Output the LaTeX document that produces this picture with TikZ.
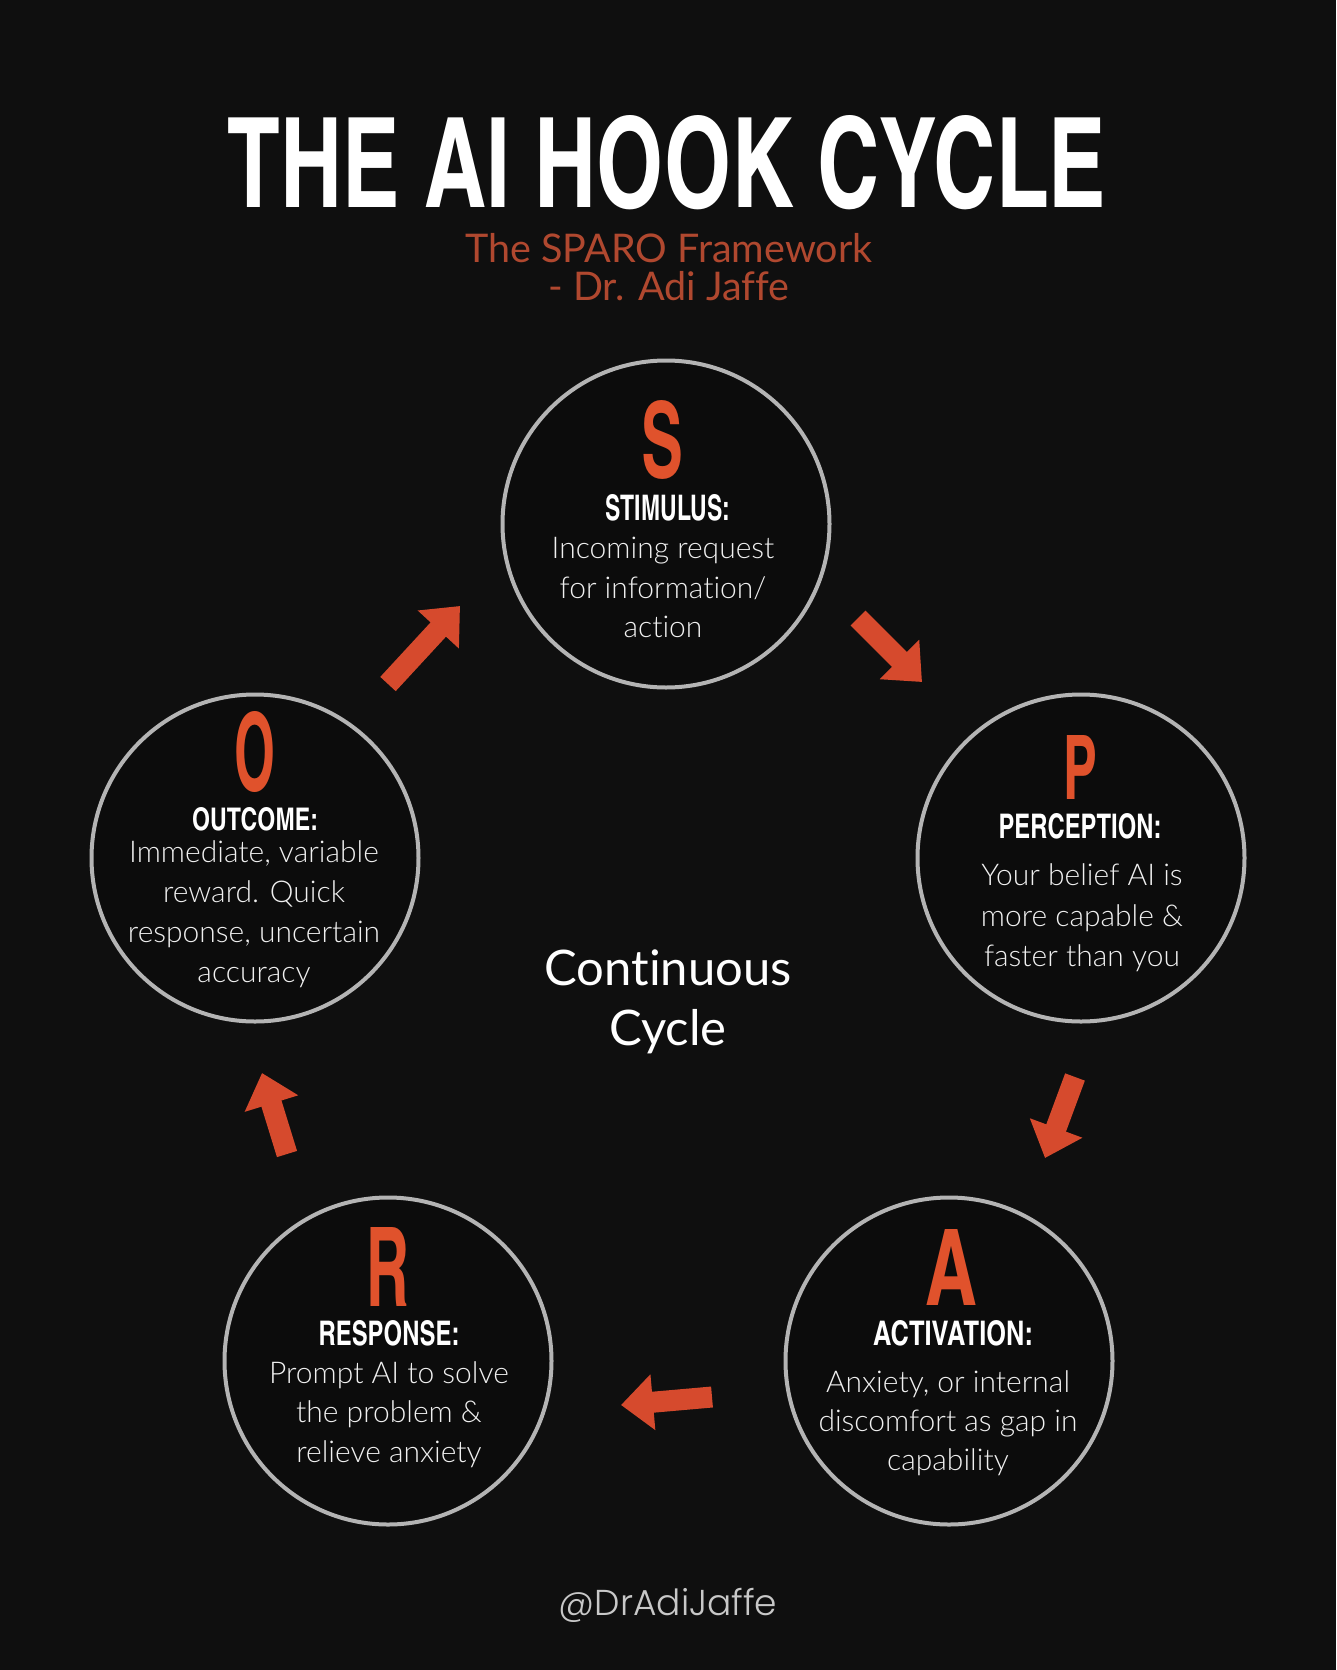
\documentclass[tikz,border=0pt]{standalone}
\usepackage{fontspec}
\usepackage{graphicx}
\usetikzlibrary{arrows.meta}
\setmainfont{Lato}[Ligatures=NoCommon]
\IfFontExistsTF{Lato Light}{\newfontfamily\lightfont{Lato Light}[Ligatures=NoCommon]}{\newfontfamily\lightfont{Lato}[Ligatures=NoCommon]}
\IfFontExistsTF{texgyreheroscn-bold.otf}{\newfontfamily\condfont{texgyreheroscn-bold.otf}}{\newfontfamily\condfont{Fira Sans}[UprightFont=* Bold]}
\IfFontExistsTF{Poppins Light}{\newfontfamily\footfont{Poppins Light}}{\newfontfamily\footfont{Poppins}}
\definecolor{bgc}{HTML}{0F0F0F}
\definecolor{innerc}{HTML}{0C0C0C}
\definecolor{ringc}{HTML}{B4B4B4}
\definecolor{orangec}{HTML}{E0522C}
\definecolor{arrowc}{HTML}{D64A2D}
\definecolor{subc}{HTML}{B0482F}
\definecolor{bodyc}{HTML}{F0F0F0}
\definecolor{footc}{HTML}{C8C8C8}
\newcommand{\fitbox}[3]{\resizebox{#1pt}{#2pt}{#3}}
\begin{document}
\begin{tikzpicture}[x=1pt,y=-1pt,
  stage/.style={circle, draw=ringc, line width=4pt, fill=innerc, minimum size=327pt, inner sep=0pt},
  letter/.style={anchor=base, inner sep=0pt, text=orangec, font=\condfont},
  heading/.style={anchor=base, inner sep=0pt, text=white, font=\condfont},
  body/.style={anchor=base, inner sep=0pt, text=bodyc, font=\lightfont\fontsize{30}{36}\selectfont},
  flow/.style={draw=arrowc, line width=21pt, -{Triangle[width=54pt,length=32pt]}}
]
\fill[bgc] (0,0) rectangle (1336,1670);
\useasboundingbox (0,0) rectangle (1336,1670);

% title
\node[anchor=base, inner sep=0pt, text=white, font=\condfont] (title) at (667,207) {\fitbox{878}{92}{THE AI HOOK CYCLE}};
\node[anchor=base, inner sep=0pt, text=subc, font=\fontsize{39.5}{46}\selectfont] (sub1) at (669,262) {The SPARO Framework};
\node[anchor=base, inner sep=0pt, text=subc, font=\fontsize{39.5}{46}\selectfont] (sub2) at (669,300) {- Dr. Adi Jaffe};

% circles
\node[stage] (cS) at (666,524) {};
\node[stage] (cP) at (1081,858) {};
\node[stage] (cO) at (255,858) {};
\node[stage] (cR) at (388,1361) {};
\node[stage] (cA) at (949,1361) {};

% S
\node[letter] (lS) at (662,477) {\fitbox{42}{77}{S}};
\node[heading] (hS) at (668,520) {\fitbox{125}{26}{STIMULUS:}};
\node[body] (bS1) at (663,558) {Incoming request};
\node[body] (bS2) at (663,598) {for information/};
\node[body] (bS3) at (663,637) {action};

% P
\node[letter] (lP) at (1080,799) {\fitbox{34}{64}{P}};
\node[heading] (hP) at (1080,838) {\fitbox{163}{25}{PERCEPTION:}};
\node[body] (bP1) at (1082,885) {Your belief AI is};
\node[body] (bP2) at (1082,926) {more capable \&};
\node[body] (bP3) at (1082,966) {faster than you};

% O
\node[letter] (lO) at (255,790) {\fitbox{41}{79}{O}};
\node[heading] (hO) at (255,830) {\fitbox{126}{23}{OUTCOME:}};
\node[body] (bO1) at (254,862) {Immediate, variable};
\node[body] (bO2) at (254,902) {reward. Quick};
\node[body] (bO3) at (254,942) {response, uncertain};
\node[body] (bO4) at (254,982) {accuracy};

% R
\node[letter] (lR) at (388,1306) {\fitbox{43}{79}{R}};
\node[heading] (hR) at (389,1345) {\fitbox{141}{25}{RESPONSE:}};
\node[body] (bR1) at (389,1383) {Prompt AI to solve};
\node[body] (bR2) at (389,1422) {the problem \&};
\node[body] (bR3) at (389,1462) {relieve anxiety};

% A
\node[letter] (lA) at (951,1305) {\fitbox{52}{76}{A}};
\node[heading] (hA) at (953,1345) {\fitbox{160}{25}{ACTIVATION:}};
\node[body] (bA1) at (948,1392) {Anxiety, or internal};
\node[body] (bA2) at (948,1431) {discomfort as gap in};
\node[body] (bA3) at (948,1470) {capability};

% centre
\node[anchor=base, inner sep=0pt, text=white, font=\fontsize{49}{58}\selectfont] (cont1) at (668,985) {Continuous};
\node[anchor=base, inner sep=0pt, text=white, font=\fontsize{49}{58}\selectfont] (cont2) at (668,1045) {Cycle};

% footer
\node[anchor=base, inner sep=0pt, text=footc, font=\footfont\fontsize{36}{42}\selectfont] (foot) at (668,1615) {@DrAdiJaffe};

% arrows
\coordinate (osT) at (388,684);
\coordinate (osH) at (460,606);
\coordinate (spT) at (858,618);
\coordinate (spH) at (922,682);
\coordinate (paT) at (1075,1077);
\coordinate (paH) at (1045,1158);
\coordinate (arT) at (712,1397);
\coordinate (arH) at (621,1405);
\coordinate (roT) at (287,1154);
\coordinate (roH) at (262,1073);
\draw[flow] (osT) -- (osH);
\draw[flow] (spT) -- (spH);
\draw[flow] (paT) -- (paH);
\draw[flow] (arT) -- (arH);
\draw[flow] (roT) -- (roH);
\end{tikzpicture}
\end{document}
